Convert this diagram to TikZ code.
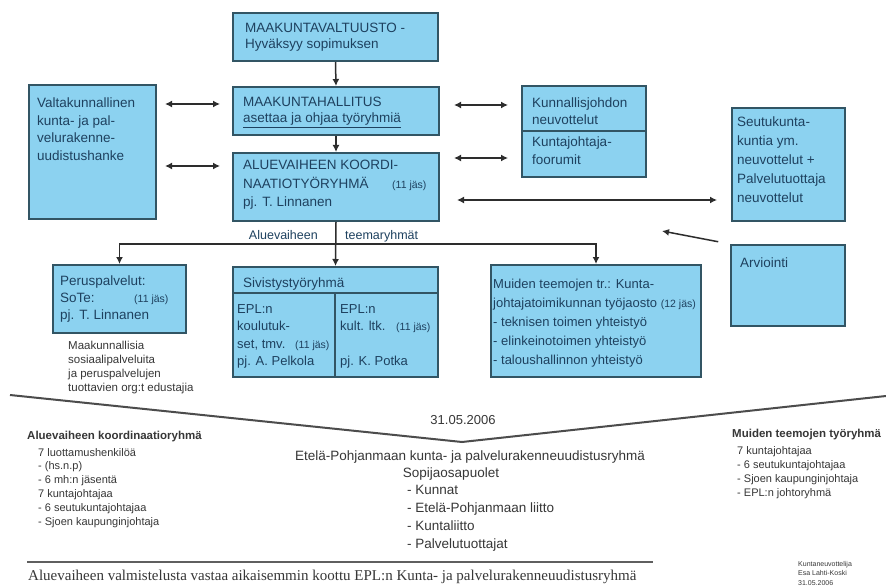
\documentclass[tikz,border=0pt]{standalone}
\usepackage{fontspec}
\setmainfont{Liberation Sans}
\newfontfamily\serifx{Liberation Serif}
\usetikzlibrary{arrows.meta}
\definecolor{boxfill}{RGB}{140,210,240}
\definecolor{boxline}{RGB}{50,85,100}
\definecolor{boxtext}{RGB}{30,65,95}
\definecolor{linec}{RGB}{45,45,45}
\definecolor{graytext}{RGB}{55,55,55}
\newcommand\mylines[1]{\begin{tabular}[t]{@{}l@{}}#1\end{tabular}}
\newcommand\jas[1]{{\fontsize{10.5}{10.5}\selectfont #1}}
\tikzset{
  box/.style={draw=boxline, fill=boxfill, line width=2pt, rectangle, inner sep=0pt, anchor=north west},
  txt/.style={inner sep=0pt, anchor=base west, text=boxtext, font=\fontsize{13.5}{18}\selectfont},
  gtxt/.style={inner sep=0pt, anchor=base west, text=graytext, font=\fontsize{11}{14}\selectfont},
  divl/.style={draw=boxline, line width=2pt},
  conn/.style={draw=linec, line width=1.5pt},
  arr/.style={conn, -{Latex[length=7pt,width=7pt]}},
  darr/.style={conn, {Latex[length=7pt,width=7pt]}-{Latex[length=7pt,width=7pt]}},
}
\begin{document}
\begin{tikzpicture}[x=1pt,y=-1pt]
\useasboundingbox (0,0) rectangle (886,588);
\fill[white] (0,0) rectangle (886,588);

% boxes
\node[box, minimum width=205, minimum height=48] (top) at (232,12) {};
\node[box, minimum width=206, minimum height=48] (mh) at (232,86) {};
\node[box, minimum width=206, minimum height=68] (av) at (232,152) {};
\node[box, minimum width=127, minimum height=134] (vk) at (28,84) {};
\node[box, minimum width=124, minimum height=91] (kj) at (521,85) {};
\node[box, minimum width=113, minimum height=113] (sk) at (731,107) {};
\node[box, minimum width=114, minimum height=81] (arv) at (730,244) {};
\node[box, minimum width=133, minimum height=68] (pp) at (52,264) {};
\node[box, minimum width=205, minimum height=110] (siv) at (232,266) {};
\node[box, minimum width=210, minimum height=112] (mu) at (490,264) {};

% dividers
\coordinate (kjdiv) at (0,131);
\draw[divl] (kj.west |- kjdiv) -- (kj.east |- kjdiv);
\coordinate (sivh) at (335,293);
\draw[divl] (siv.west |- sivh) -- (siv.east |- sivh);
\draw[divl] (sivh) -- (sivh |- siv.south);

% box texts
\node[txt, font=\fontsize{13.5}{16}\selectfont] (topt) at (245,33) {\mylines{MAAKUNTAVALTUUSTO -\\Hyväksyy sopimuksen}};
\node[txt, font=\fontsize{13.5}{16}\selectfont] (mht) at (243,107) {\mylines{MAAKUNTAHALLITUS\\\underline{asettaa ja ohjaa työryhmiä}}};
\node[txt, font=\fontsize{13.5}{18.5}\selectfont] (avt) at (243,170) {\mylines{ALUEVAIHEEN KOORDI-\\\makebox[149pt][l]{NAATIOTYÖRYHMÄ}\jas{(11 jäs)}\\pj. T. Linnanen}};
\node[txt, font=\fontsize{13.5}{17.5}\selectfont] (vkt) at (37,108) {\mylines{Valtakunnallinen\\kunta- ja pal-\\velurakenne-\\uudistushanke}};
\node[txt, font=\fontsize{13.5}{17}\selectfont] (kjt1) at (532,108) {\mylines{Kunnallisjohdon\\neuvottelut}};
\node[txt, font=\fontsize{13.5}{18}\selectfont] (kjt2) at (532,147) {\mylines{Kuntajohtaja-\\foorumit}};
\node[txt, font=\fontsize{13.5}{18.8}\selectfont] (skt) at (737,127) {\mylines{Seutukunta-\\kuntia ym.\\neuvottelut +\\Palvelutuottaja\\neuvottelut}};
\node[txt] (arvt) at (740,267) {Arviointi};
\node[txt, font=\fontsize{13.5}{17}\selectfont] (ppt) at (60,285) {\mylines{Peruspalvelut:\\\makebox[74pt][l]{SoTe:}\jas{(11 jäs)}\\pj. T. Linnanen}};
\node[txt] (sivt) at (243,287) {Sivistystyöryhmä};
\node[txt, font=\fontsize{13}{17.5}\selectfont] (sivl) at (237,313) {\mylines{EPL:n\\koulutuk-\\\makebox[58pt][l]{set, tmv.}\jas{(11 jäs)}\\pj. A. Pelkola}};
\node[txt, font=\fontsize{13}{17.5}\selectfont] (sivr) at (340,313) {\mylines{EPL:n\\\makebox[56pt][l]{kult. ltk.}\jas{(11 jäs)}\\ \\pj. K. Potka}};
\node[txt, font=\fontsize{13}{19}\selectfont] (mut) at (493,288) {\mylines{Muiden teemojen tr.: Kunta-\\johtajatoimikunnan työjaosto \jas{(12 jäs)}\\- teknisen toimen yhteistyö\\- elinkeinotoimen yhteistyö\\- taloushallinnon yhteistyö}};

% connectors
\draw[arr] (top.south) -- (mh.north);
\draw[arr] (mh.south) -- (av.north);
\coordinate (l1) at (0,104);
\coordinate (l2) at (0,166);
\coordinate (r1) at (0,105);
\coordinate (r2) at (0,158);
\coordinate (r3) at (0,200);
\draw[darr, shorten <=8pt, shorten >=12pt] (vk.east |- l1) -- (mh.west |- l1);
\draw[darr, shorten <=8pt, shorten >=12pt] (vk.east |- l2) -- (av.west |- l2);
\draw[darr, shorten <=14pt, shorten >=13pt] (mh.east |- r1) -- (kj.west |- r1);
\draw[darr, shorten <=14pt, shorten >=13pt] (av.east |- r2) -- (kj.west |- r2);
\draw[darr, shorten <=17pt, shorten >=14pt] (av.east |- r3) -- (sk.west |- r3);
\coordinate (arvtip) at (662,231);
\draw[arr, shorten <=12pt] (arv.north west) -- (arvtip);
\coordinate (split) at (334.5,244);
\draw[arr] (av.south) -- (siv.north);
\draw[arr] (split) -| (pp.north);
\draw[arr] (split) -| (mu.north);
\node[txt, anchor=base east, font=\fontsize{12.5}{14}\selectfont] (lblA) at (318,240) {Aluevaiheen};
\node[txt, font=\fontsize{12.5}{14}\selectfont] (lblB) at (345,240) {teemaryhmät};

% note under Peruspalvelut
\node[gtxt, font=\fontsize{11.5}{14}\selectfont] (note) at (68,349) {\mylines{Maakunnallisia\\sosiaalipalveluita\\ja peruspalvelujen\\tuottavien org:t edustajia}};

% V line
\draw[draw=linec!85, line width=2pt] (10,395) -- (462,442) -- (886,396);

% bottom texts
\node[gtxt, anchor=base, font=\fontsize{13}{16}\selectfont] (date) at (463,424) {31.05.2006};
\node[gtxt, anchor=base, font=\fontsize{13.5}{18}\selectfont] (ep) at (470,460) {Etelä-Pohjanmaan kunta- ja palvelurakenneuudistusryhmä};
\node[gtxt, anchor=base, font=\fontsize{13.5}{18}\selectfont] (sop) at (451,477) {Sopijaosapuolet};
\node[gtxt, font=\fontsize{13.5}{18}\selectfont] (sopl) at (407,494) {\mylines{- Kunnat\\- Etelä-Pohjanmaan liitto\\- Kuntaliitto\\- Palvelutuottajat}};

\node[gtxt, font=\fontsize{11.5}{14}\selectfont\bfseries] (lt) at (27,439) {Aluevaiheen koordinaatioryhmä};
\node[gtxt, font=\fontsize{11}{13.8}\selectfont] (ll) at (38,456) {\mylines{7 luottamushenkilöä\\- (hs.n.p)\\- 6 mh:n jäsentä\\7 kuntajohtajaa\\- 6 seutukuntajohtajaa\\- Sjoen kaupunginjohtaja}};

\node[gtxt, font=\fontsize{11.5}{14}\selectfont\bfseries] (rt) at (732,437) {Muiden teemojen työryhmä};
\node[gtxt, font=\fontsize{11}{14}\selectfont] (rl) at (737,454) {\mylines{7 kuntajohtajaa\\- 6 seutukuntajohtajaa\\- Sjoen kaupunginjohtaja\\- EPL:n johtoryhmä}};

\draw[draw=graytext!80, line width=1.5pt] (27,562) -- (653,562);
\node[gtxt, font=\serifx\fontsize{15}{18}\selectfont] (foot) at (28,580) {Aluevaiheen valmistelusta vastaa aikaisemmin koottu EPL:n Kunta- ja palvelurakenneuudistusryhmä};
\node[gtxt, font=\fontsize{7}{9.5}\selectfont] (sig) at (798,566) {\mylines{Kuntaneuvottelija\\Esa Lahti-Koski\\31.05.2006}};
\end{tikzpicture}
\end{document}
